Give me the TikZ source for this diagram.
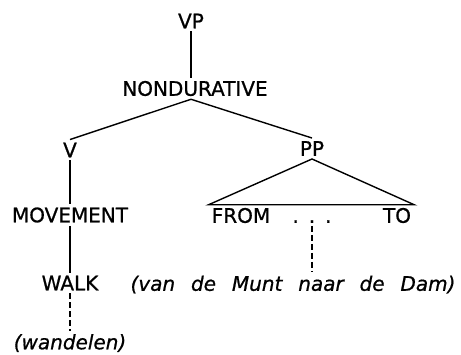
\documentclass[tikz,border=0pt]{standalone}
\usepackage{fontspec}
\setmainfont{DejaVu Sans}[FakeBold=0.8]
\newfontfamily\glossfont[WordSpace=2.5,FakeBold=0.8]{DejaVu Sans}
\usetikzlibrary{positioning}

\begin{document}
\begin{tikzpicture}[
        x=1pt, y=1pt,
        cat/.style={inner sep=3pt, font=\fontsize{20}{24}\selectfont},
        gloss/.style={inner sep=3pt, font=\glossfont\itshape\fontsize{20}{24}\selectfont},
        branch/.style={-, line width=1.4pt},
        link/.style={-, line width=1.3pt, dash pattern=on 6pt off 3pt},
        node distance=60pt, on grid
    ]
        \useasboundingbox (-191,21) rectangle (270,-333);

        % Top of the tree
        \node[cat] (vp) {VP};
        \node[cat, below=67.5pt of vp, xshift=4pt] (nondur) {NONDURATIVE};
        \coordinate (stem) at (vp |- nondur.north);
        \coordinate (fork) at (vp |- nondur.south);

        \draw[branch] (vp) -- (stem);

        % Verb branch
        \node[cat, below left=61.5pt and 125pt of nondur] (v) {V};
        \node[cat, below=65pt of v] (movement) {MOVEMENT};
        \node[cat, below=68pt of movement] (walk) {WALK};
        \node[gloss, below=60pt of walk] (wandelen) {(wandelen)};

        \draw[branch] (fork) -- (v.north);
        \draw[branch] (v) -- (movement);
        \draw[branch] (movement) -- (walk);
        \draw[link] (walk) -- (wandelen);

        % PP branch
        \node[cat, below right=60pt and 117pt of nondur] (pp) {PP};
        \node[cat, below left=67pt and 71pt of pp] (from) {FROM};
        \node[cat, right=156pt of from] (to) {TO};
        \node[cat, anchor=base] (dots) at ([xshift=71pt]from.base) {.\hspace{10pt}.\hspace{10pt}.};
        \node[gloss, below right=69pt and 52pt of from] (munt) {(van de Munt naar de Dam)};

        \draw[branch] (fork) -- (pp.north);
        \draw[branch] (pp.south) -- (from.north west) -- (to.north east) -- cycle;
        \draw[link] (dots.south) -- (dots.south |- munt.north);

    \end{tikzpicture}
\end{document}
